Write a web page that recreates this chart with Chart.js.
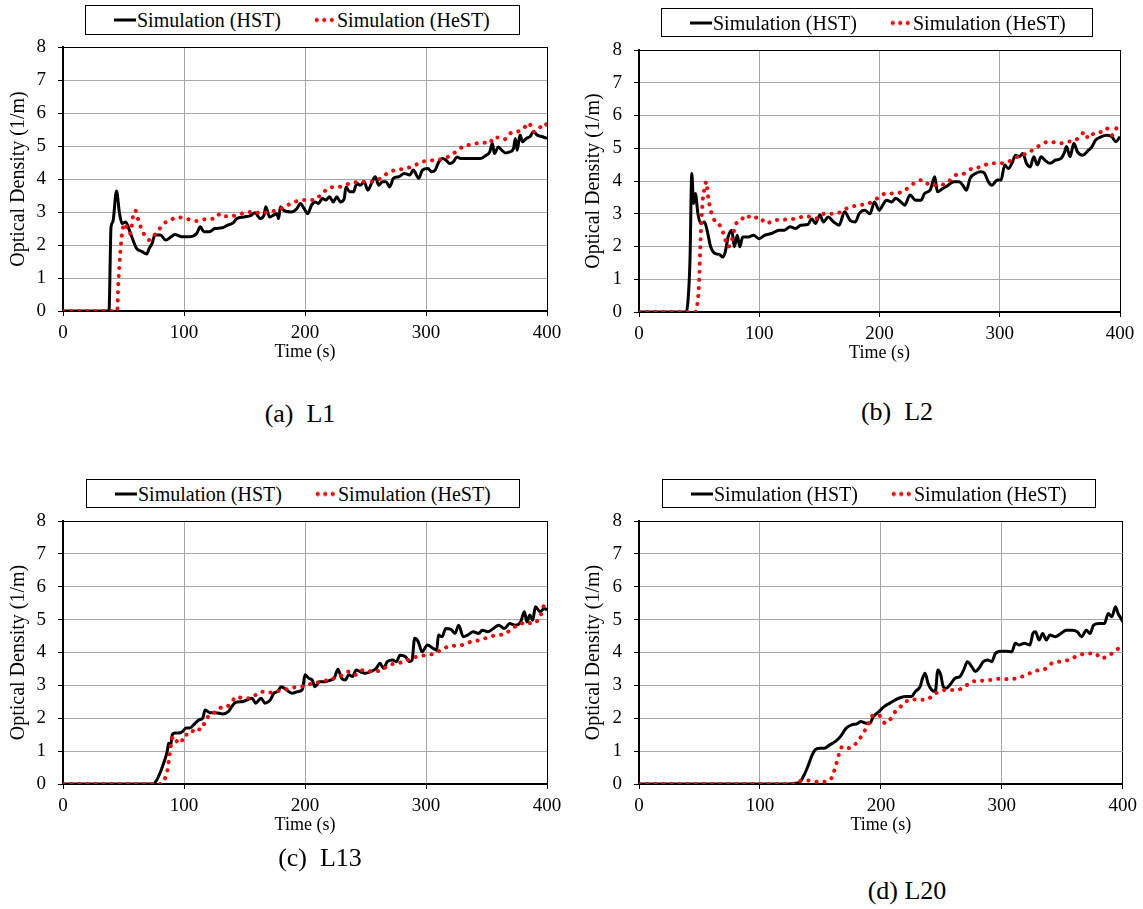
<!DOCTYPE html>
<html>
<head>
<meta charset="utf-8">
<title>Optical density at L1, L2, L13, L20</title>
<script src="https://cdn.jsdelivr.net/npm/chart.js@4.4.1/dist/chart.umd.min.js"></script>
<style>
  body {
    margin: 0;
    width: 1143px;
    height: 909px;
    position: relative;
    overflow: hidden;
    background: #fff;
    font-family: "Liberation Serif", "Times New Roman", serif;
    color: #000;
  }
  canvas { position: absolute; }
  .legend {
    position: absolute;
    box-sizing: border-box;
    border: 1px solid #000;
    background: #fff;
    font-size: 20px;
    white-space: nowrap;
  }
  .legend span { position: absolute; top: 50%; transform: translateY(-50%); }
  .legend .solid { width: 22px; height: 3px; background: #000; }
  .legend .dots {
    width: 22px;
    height: 5px;
    background: radial-gradient(circle, #f00 1.9px, transparent 2.3px) 0 50% / 7.5px 5px repeat-x;
  }
  .caption {
    position: absolute;
    font-size: 26px;
    white-space: pre;
    transform: translate(-50%, -50%);
  }
</style>
</head>
<body>

<canvas id="chartL1"></canvas>
<canvas id="chartL2"></canvas>
<canvas id="chartL13"></canvas>
<canvas id="chartL20"></canvas>

<div class="caption" style="left:300px; top:414px;">(a)  L1</div>
<div class="caption" style="left:897px; top:412px;">(b)  L2</div>
<div class="caption" style="left:320px; top:858px;">(c)  L13</div>
<div class="caption" style="left:907px; top:891px;">(d) L20</div>

<script>
// ===============================
// Data: [time (s), optical density (1/m)]
// ===============================
const xTicks = [0, 100, 200, 300, 400];
const yTicks = [0, 1, 2, 3, 4, 5, 6, 7, 8];
const seriesNames = ["Simulation (HST)", "Simulation (HeST)"];

const hstL1 = [[0,0],[38,0],[39.7,2.55],[41.2,2.7],[44.2,3.64],[46.7,2.96],[48.8,2.65],[51.8,2.7],[54.8,2.45],[57.8,2.15],[60.8,1.9],[65.3,1.8],[69.2,1.73],[71.3,1.9],[73.7,2.05],[75.8,2.3],[80.4,2.3],[84.9,2.15],[89.4,2.25],[92.4,2.32],[98.4,2.25],[104.4,2.25],[110.5,2.35],[113.5,2.55],[116.5,2.4],[121,2.4],[125.5,2.5],[131.5,2.52],[136,2.6],[140.6,2.67],[143.6,2.8],[149.6,2.85],[155.6,2.9],[158.6,2.98],[163.1,2.8],[166.1,2.9],[167.6,3.16],[170.7,2.85],[173.7,2.9],[176.7,2.95],[178.2,2.8],[179.7,3.16],[182.7,3.04],[188.7,3.0],[193.2,3.1],[196.2,3.26],[199.3,3.1],[202.3,2.95],[205.3,3.2],[208.3,3.3],[211.3,3.26],[214.3,3.41],[217.3,3.36],[220.3,3.46],[223.3,3.3],[226.3,3.46],[229.3,3.3],[232.4,3.41],[233.9,3.76],[236.9,3.61],[239.9,3.61],[242.9,3.86],[245.9,3.81],[248.9,3.92],[251.9,3.66],[254.9,3.86],[258,4.07],[261,3.81],[264,3.92],[267,3.92],[270,3.76],[273,4.02],[277.5,4.07],[282,4.17],[286.5,4.12],[289.5,4.27],[294,4.02],[297,4.27],[301.6,4.32],[304.6,4.22],[307.6,4.27],[310.6,4.52],[313.6,4.62],[316.6,4.57],[319.6,4.47],[322.6,4.52],[325.7,4.67],[328.7,4.62],[333.2,4.62],[339.2,4.62],[345.2,4.62],[349.7,4.72],[352.7,4.82],[354.8,5.08],[356.6,4.77],[359.7,4.97],[362.7,4.87],[365.7,4.79],[369.3,4.82],[372.3,4.92],[373.8,5.23],[375.3,4.87],[377.7,5.33],[379.8,5.13],[382.8,5.23],[385.8,5.28],[388.8,5.43],[391.9,5.33],[396.4,5.28],[400,5.23]];
const hestL1 = [[0,0],[44.8,0],[45.7,0.84],[47.3,1.75],[48.8,2.35],[50.9,2.65],[53.3,2.45],[55.7,2.35],[57.8,2.86],[59.9,3.04],[62.3,2.75],[65.3,2.45],[68.3,2.25],[71.3,2.15],[74.3,2.25],[78.9,2.45],[83.4,2.65],[89.4,2.77],[95.4,2.84],[101.4,2.8],[110.5,2.73],[119.5,2.79],[125.5,2.8],[130,2.95],[134.5,2.87],[143.6,2.9],[152.6,3.0],[161.6,2.98],[170.7,3.0],[179.7,3.1],[188.7,3.26],[197.7,3.36],[206.8,3.36],[214.3,3.56],[220.3,3.74],[227.8,3.76],[236.9,3.86],[245.9,3.92],[254.9,3.92],[262.4,4.02],[270,4.22],[279,4.29],[288,4.37],[297,4.52],[306.1,4.57],[315.1,4.62],[322.6,4.77],[330.2,4.97],[339.2,5.06],[346.7,5.1],[352.7,5.08],[355.7,5.26],[360.2,5.26],[364.8,5.2],[369.3,5.38],[375.3,5.43],[381.3,5.56],[385,5.7],[388.8,5.43],[393.4,5.53],[397.9,5.7],[400,5.63]];

const hstL2 = [[0,0],[39.3,0],[40.8,0.36],[42.4,1.58],[43.9,4.23],[45.4,3.31],[46.9,3.62],[49,3.0],[51.4,2.7],[54.5,2.75],[56.6,2.5],[59.6,1.99],[63.5,1.78],[66.6,1.76],[69.6,1.68],[71.7,1.83],[74.1,2.29],[77.2,2.5],[79.3,1.99],[81.7,2.34],[83.8,1.99],[86.2,2.29],[90.8,2.29],[95.3,2.34],[99.8,2.24],[104.4,2.34],[110.4,2.4],[116.5,2.5],[121,2.5],[125.6,2.6],[130.1,2.55],[134.6,2.65],[140.7,2.68],[143.7,2.85],[146.7,2.7],[150.4,2.96],[153.4,2.75],[157.3,2.9],[161.9,2.75],[166.4,2.65],[171,3.06],[175.5,2.8],[180,2.75],[183,3.0],[187.6,3.11],[192.1,3.0],[195.8,3.36],[199.7,3.11],[202.7,3.26],[205.7,3.41],[210.3,3.36],[213.3,3.47],[217.9,3.36],[220.9,3.26],[225.4,3.57],[230,3.41],[234.5,3.41],[237.5,3.62],[242.1,3.72],[246,4.13],[248.1,3.67],[252.6,3.77],[257.2,3.87],[261.7,3.98],[266.3,3.98],[269.3,3.87],[272.3,3.72],[275.3,4.08],[279.9,4.23],[284.4,4.28],[287.4,4.23],[290.5,3.98],[293.5,3.87],[298,4.03],[301.1,4.03],[304.1,4.49],[307.1,4.38],[310.1,4.54],[313.2,4.79],[316.2,4.74],[319.2,4.84],[322.2,4.54],[325.3,4.43],[328.3,4.74],[331.3,4.49],[334.3,4.74],[337.4,4.64],[341.9,4.54],[346.4,4.64],[351,4.69],[354,4.89],[355.5,5.05],[358.5,4.74],[361.6,5.15],[364.6,4.89],[369.1,4.79],[373.7,4.94],[376.7,5.05],[379.7,5.25],[384.3,5.35],[388.8,5.4],[393.3,5.35],[396.4,5.2],[400,5.35]];
const hestL2 = [[0,0],[46.9,0],[48.4,0.2],[49.9,0.87],[51.4,2.4],[53,3.41],[54.5,3.77],[56,3.98],[57.5,3.52],[59.6,3.11],[63.5,2.75],[68.1,2.6],[71.1,2.29],[74.1,1.99],[77.2,2.19],[80.2,2.65],[84.7,2.8],[89.3,2.96],[93.8,2.85],[99.8,2.9],[105.9,2.7],[112,2.8],[121,2.82],[130.1,2.85],[139.2,2.93],[146.7,2.85],[154.3,3.0],[163.4,3.0],[172.5,3.16],[181.5,3.26],[190.6,3.31],[198.2,3.47],[205.7,3.62],[213.3,3.62],[220.9,3.72],[228.4,3.92],[236,4.03],[242.1,3.87],[249.6,3.87],[257.2,3.98],[263.2,4.18],[270.8,4.23],[276.9,4.38],[284.4,4.43],[292,4.54],[299.5,4.54],[307.1,4.59],[314.7,4.74],[322.2,4.84],[329.8,5.0],[335.9,5.15],[341.9,5.2],[349.5,5.15],[357.1,5.2],[363.1,5.25],[367.6,5.4],[370.6,5.5],[373.7,5.3],[378.2,5.45],[384.3,5.5],[388.8,5.61],[393.3,5.4],[396.4,5.56],[398.5,5.71],[400,5.61]];

const hstL13 = [[0,0],[74.6,0],[77.6,0.13],[80.7,0.38],[83.7,0.69],[86.1,0.99],[87.3,1.24],[88.8,1.14],[90.3,1.5],[92.7,1.55],[95.8,1.55],[98.8,1.6],[101.8,1.7],[104.8,1.7],[107.9,1.8],[112.4,1.95],[115.4,2.0],[117.5,2.25],[121.5,2.17],[126,2.17],[132,2.13],[136.6,2.2],[139.6,2.36],[142.6,2.48],[148.6,2.51],[156.2,2.61],[159.2,2.46],[163.7,2.61],[166.8,2.46],[171.3,2.56],[174.3,2.76],[177.3,2.81],[180.4,2.96],[184.9,2.86],[189.4,2.76],[194,2.81],[197.9,2.88],[200,3.32],[203,3.22],[206,3.16],[208.2,2.96],[212.1,3.11],[216.6,3.11],[221.1,3.16],[224.2,3.22],[227.2,3.49],[230.2,3.22],[233.2,3.16],[236.3,3.32],[239.3,3.27],[242.3,3.47],[245.3,3.42],[249.8,3.37],[254.4,3.42],[258.9,3.52],[261.9,3.67],[265,3.52],[268,3.72],[272.5,3.77],[275.5,3.72],[278.5,3.92],[283.1,3.87],[286.1,3.72],[288.5,3.77],[290.6,4.43],[293.6,4.33],[296.7,4.02],[301.2,4.23],[305.7,4.13],[308.8,4.07],[310.3,4.53],[313.3,4.48],[316.3,4.73],[320.8,4.7],[323.9,4.58],[327,4.83],[330.8,4.48],[334.4,4.53],[339,4.63],[343.5,4.58],[346.5,4.68],[351,4.63],[355.6,4.73],[360.1,4.83],[364.7,4.73],[369.2,4.88],[373.7,4.83],[378.2,4.93],[381.3,5.24],[383.4,4.93],[385.8,5.14],[388.2,4.98],[390.4,5.39],[394.3,5.24],[397.9,5.34],[400,5.29]];
const hestL13 = [[0,0],[80.7,0],[83.7,0.13],[86.1,0.38],[87.9,0.84],[89.7,1.29],[91.2,1.45],[94.3,1.29],[97.3,1.24],[100.3,1.5],[104.8,1.5],[109.4,1.7],[113.9,1.65],[116.9,1.85],[119.9,2.05],[124.5,2.15],[129,2.31],[135,2.34],[139.6,2.51],[143.5,2.66],[148.6,2.61],[154.7,2.61],[159.2,2.71],[163.7,2.81],[169.8,2.78],[175.8,2.81],[181.9,2.86],[187.9,2.91],[194,2.96],[200,2.98],[206,3.06],[213.6,3.11],[221.1,3.19],[228.7,3.27],[236.3,3.42],[242.3,3.32],[248.3,3.47],[255.9,3.42],[263.4,3.47],[269.5,3.62],[277,3.67],[284.6,3.77],[292.1,3.87],[299.7,3.92],[307.3,3.97],[314.8,4.13],[322.4,4.2],[330,4.23],[337.5,4.33],[345,4.38],[352.6,4.48],[358.6,4.53],[366.2,4.58],[370.7,4.73],[376.7,4.83],[382.8,4.93],[387.3,4.88],[391.2,4.93],[394.9,5.14],[397.9,5.44],[400,5.34]];

const hstL20 = [[0,0],[120,0],[130.6,0.03],[133.6,0.08],[136.6,0.28],[139.7,0.54],[142.7,0.84],[145.7,1.04],[149.3,1.09],[153.2,1.09],[157.7,1.19],[162.2,1.29],[166.7,1.45],[171.3,1.7],[175.8,1.8],[180.3,1.83],[183.3,1.9],[187.8,1.85],[190.8,1.85],[193.8,2.05],[198.3,2.2],[202.9,2.36],[207.4,2.46],[211.9,2.56],[216.4,2.63],[220.9,2.66],[225.4,2.66],[228.4,2.81],[232.4,2.96],[234.5,3.22],[236.6,3.37],[239,3.06],[242,2.86],[245,2.81],[247.1,3.47],[249.5,3.32],[251.6,2.96],[254,2.91],[257,3.01],[261.5,3.22],[265.5,3.27],[268.5,3.47],[271.5,3.72],[275.1,3.57],[278.1,3.42],[281.1,3.52],[284.7,3.72],[288.6,3.77],[291.6,3.72],[294.7,3.97],[299.2,4.04],[303.7,4.04],[308.2,4.02],[311.2,4.28],[314.2,4.23],[318.7,4.28],[323.3,4.23],[325.7,4.58],[327.8,4.63],[330.8,4.38],[333.8,4.58],[336.8,4.38],[339.8,4.53],[344.3,4.48],[348.8,4.58],[353.3,4.68],[357.9,4.68],[362.4,4.63],[366,4.48],[369.9,4.68],[372.9,4.58],[375.9,4.83],[380.4,4.88],[384.9,4.88],[388,5.19],[391,5.09],[394,5.39],[396.1,5.19],[398.5,5.04],[400,4.93]];
const hestL20 = [[0,0],[127.6,0],[132.1,0.08],[136.6,0.11],[142.7,0.1],[148.7,0.06],[154.7,0.08],[159.2,0.18],[162.2,0.49],[165.2,0.89],[168.2,1.14],[172.8,1.09],[178.2,1.19],[181.8,1.34],[186.3,1.6],[189.3,1.8],[192.3,2.05],[195.3,2.1],[199.9,2.05],[203.5,1.85],[207.4,1.95],[211.9,2.2],[216.4,2.36],[220.9,2.51],[225.4,2.58],[231.5,2.56],[237.5,2.56],[243.5,2.71],[249.5,2.84],[257,2.86],[263.1,2.86],[269.1,2.96],[275.1,3.11],[282.6,3.14],[290.1,3.16],[297.7,3.2],[305.2,3.19],[312.7,3.22],[320.2,3.32],[327.8,3.44],[335.3,3.49],[341.3,3.67],[347.3,3.72],[354.9,3.77],[360.9,3.87],[366.9,3.95],[372.9,3.97],[377.4,3.97],[381.9,3.82],[386.5,3.87],[391,3.97],[395.5,4.1],[400,4.18]];

// ===============================
// Panel placement (page pixels)
// ===============================
const panels = [
  { id: "chartL1",  hst: hstL1,  hest: hestL1,  x: 0,   y: 0,   w: 575, area: { left: 63,  top: 47,  right: 547,  bottom: 311 } },
  { id: "chartL2",  hst: hstL2,  hest: hestL2,  x: 575, y: 0,   w: 568, area: { left: 639, top: 50,  right: 1120, bottom: 312 } },
  { id: "chartL13", hst: hstL13, hest: hestL13, x: 0,   y: 470, w: 575, area: { left: 63,  top: 521, right: 547,  bottom: 784 } },
  { id: "chartL20", hst: hstL20, hest: hestL20, x: 575, y: 470, w: 568, area: { left: 639, top: 521, right: 1123, bottom: 784 } },
];

const legendBoxes = [
  { left: 85,  top: 5,   width: 435, height: 30 },
  { left: 661, top: 8,   width: 432, height: 29 },
  { left: 86,  top: 479, width: 434, height: 29 },
  { left: 662, top: 479, width: 434, height: 29 },
];

const FONT = '"Liberation Serif", "Times New Roman", serif';
const X_SCALE_HEIGHT = 60;

Chart.defaults.font.family = FONT;
Chart.defaults.color = "#000";

// black frame lines on the outer ticks, grey grid inside
function gridColor(min, max) {
  return (ctx) => {
    const v = ctx.tick ? ctx.tick.value : null;
    return v === min || v === max ? "#000" : "#a6a6a6";
  };
}

function toPoints(pairs) {
  return pairs.map(([t, v]) => ({ x: t, y: v }));
}

// ===============================
// Build Charts
// ===============================
function buildPanel(p) {
  const canvas = document.getElementById(p.id);
  const height = p.area.bottom - p.y + X_SCALE_HEIGHT;
  canvas.width = p.w;
  canvas.height = height;
  canvas.style.left = p.x + "px";
  canvas.style.top = p.y + "px";

  new Chart(canvas, {
    type: "line",
    data: {
      datasets: [
        {
          label: seriesNames[0],
          data: toPoints(p.hst),
          borderColor: "#000",
          borderWidth: 3,
          pointRadius: 0,
          cubicInterpolationMode: "monotone",
          order: 1,
        },
        {
          label: seriesNames[1],
          data: toPoints(p.hest),
          borderColor: "#ff0000",
          borderWidth: 4,
          borderDash: [0.1, 8],
          borderCapStyle: "round",
          pointRadius: 0,
          cubicInterpolationMode: "monotone",
          order: 0,
        },
      ],
    },
    options: {
      responsive: false,
      animation: false,
      devicePixelRatio: 1,
      layout: {
        padding: { top: p.area.top - p.y, right: p.x + p.w - p.area.right, left: 0, bottom: 0 },
      },
      plugins: { legend: { display: false }, tooltip: { enabled: false } },
      scales: {
        x: {
          type: "linear",
          min: xTicks[0],
          max: xTicks[xTicks.length - 1],
          afterBuildTicks: (s) => { s.ticks = xTicks.map((v) => ({ value: v })); },
          afterFit: (s) => { s.height = X_SCALE_HEIGHT; },
          ticks: { font: { size: 19 }, padding: 6, maxRotation: 0 },
          grid: {
            color: gridColor(xTicks[0], xTicks[xTicks.length - 1]),
            tickColor: "#000",
            tickLength: 5,
            lineWidth: 1,
          },
          border: { display: true, color: "#000", width: 2 },
          title: { display: true, text: "Time (s)", font: { size: 18 }, padding: { top: 0, bottom: 8 } },
        },
        y: {
          min: yTicks[0],
          max: yTicks[yTicks.length - 1],
          afterBuildTicks: (s) => { s.ticks = yTicks.map((v) => ({ value: v })); },
          afterFit: (s) => { s.width = p.area.left - p.x; },
          ticks: { font: { size: 19 }, padding: 12 },
          grid: {
            color: gridColor(yTicks[0], yTicks[yTicks.length - 1]),
            tickColor: "#000",
            tickLength: 5,
            lineWidth: 1,
          },
          border: { display: true, color: "#000", width: 2 },
          title: { display: true, text: "Optical Density (1/m)", font: { size: 20 }, padding: { top: 7, bottom: 0 } },
        },
      },
    },
  });
}

// ===============================
// Legends
// ===============================
function buildLegend(box) {
  const el = document.createElement("div");
  el.className = "legend";
  el.style.left = box.left + "px";
  el.style.top = box.top + "px";
  el.style.width = box.width + "px";
  el.style.height = box.height + "px";
  el.innerHTML =
    '<span class="solid" style="left:28px"></span>' +
    '<span style="left:51px">' + seriesNames[0] + "</span>" +
    '<span class="dots" style="left:227px"></span>' +
    '<span style="left:251px">' + seriesNames[1] + "</span>";
  document.body.appendChild(el);
}

panels.forEach(buildPanel);
legendBoxes.forEach(buildLegend);
</script>
</body>
</html>
